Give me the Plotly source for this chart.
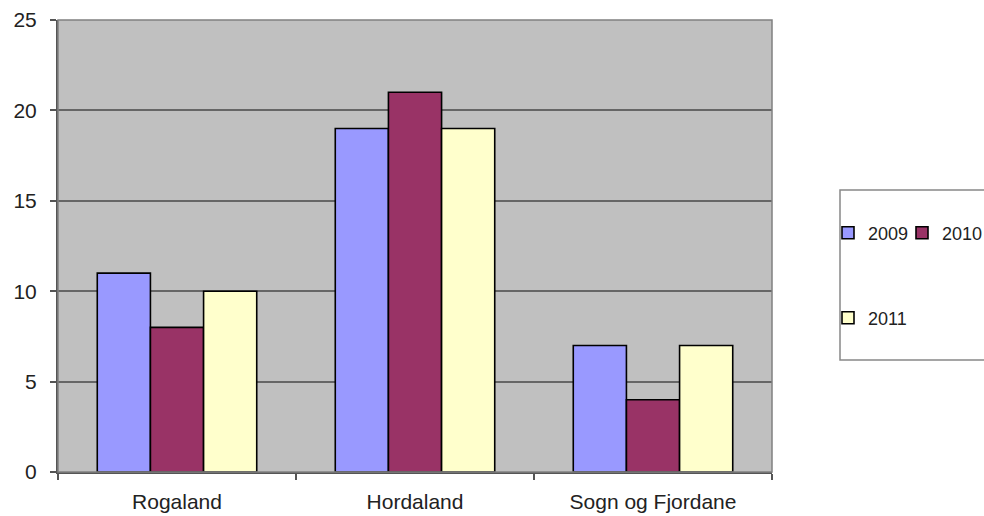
import plotly.graph_objects as go

# Counts per county and year
counties = ["Rogaland", "Hordaland", "Sogn og Fjordane"]
years = ["2009", "2010", "2011"]
values_2009 = [11, 19, 7]
values_2010 = [8, 21, 4]
values_2011 = [10, 19, 7]
y_ticks = [0, 5, 10, 15, 20, 25]

series = [values_2009, values_2010, values_2011]
colors = ["#9999FF", "#993366", "#FFFFCC"]
legend_of = ["legend", "legend2", "legend3"]

FONT = "Liberation Sans, Arial, sans-serif"

fig = go.Figure()
for year, vals, col, lg in zip(years, series, colors, legend_of):
    fig.add_trace(go.Bar(
        name=year, x=counties, y=vals,
        marker=dict(color=col, line=dict(color="#000000", width=1.6)),
        legend=lg,
    ))

W, H = 984, 516
L, R, T, B = 58, 212, 20, 44
pw, ph = W - L - R, H - T - B


def px_x(px):
    return (px - L) / pw


def px_y(py):
    return (H - B - py) / ph


def legend_box(left_px, mid_px):
    return dict(
        orientation="h", x=px_x(left_px), xanchor="left",
        y=px_y(mid_px), yanchor="middle",
        font=dict(size=18), bgcolor="rgba(0,0,0,0)", itemwidth=30,
    )


fig.update_layout(
    width=W, height=H,
    margin=dict(l=L, r=R, t=T, b=B, autoexpand=False),
    paper_bgcolor="white",
    plot_bgcolor="#C0C0C0",
    barmode="group",
    bargap=0.33,
    bargroupgap=0,
    font=dict(family=FONT, size=20, color="#222222"),
    legend=legend_box(828, 233),
    legend2=legend_box(902, 233),
    legend3=legend_box(828, 318),
    showlegend=True,
    xaxis=dict(
        type="category",
        showline=True, linecolor="#555555", linewidth=2,
        ticks="outside", tickson="boundaries", ticklen=6,
        tickcolor="#555555", tickwidth=1.5,
        showgrid=False, ticklabelstandoff=10,
        tickfont=dict(size=21),
    ),
    yaxis=dict(
        range=[0, 25], tickvals=y_ticks,
        showline=True, linecolor="#555555", linewidth=2,
        ticks="outside", ticklen=6, tickcolor="#555555", tickwidth=1.5,
        showgrid=True, gridcolor="#666666", gridwidth=1.5,
        zeroline=False, ticklabelstandoff=9,
        tickfont=dict(size=21),
    ),
    shapes=[
        # plot area frame
        dict(type="rect", xref="paper", yref="paper", x0=0, x1=1, y0=0, y1=1,
             line=dict(color="#808080", width=1.5), layer="above"),
        # legend frame
        dict(type="rect", xref="paper", yref="paper",
             x0=px_x(840), x1=px_x(1010), y0=px_y(360), y1=px_y(190),
             line=dict(color="#888888", width=1.5), fillcolor="rgba(0,0,0,0)"),
    ],
)

fig.write_html("out.html")
